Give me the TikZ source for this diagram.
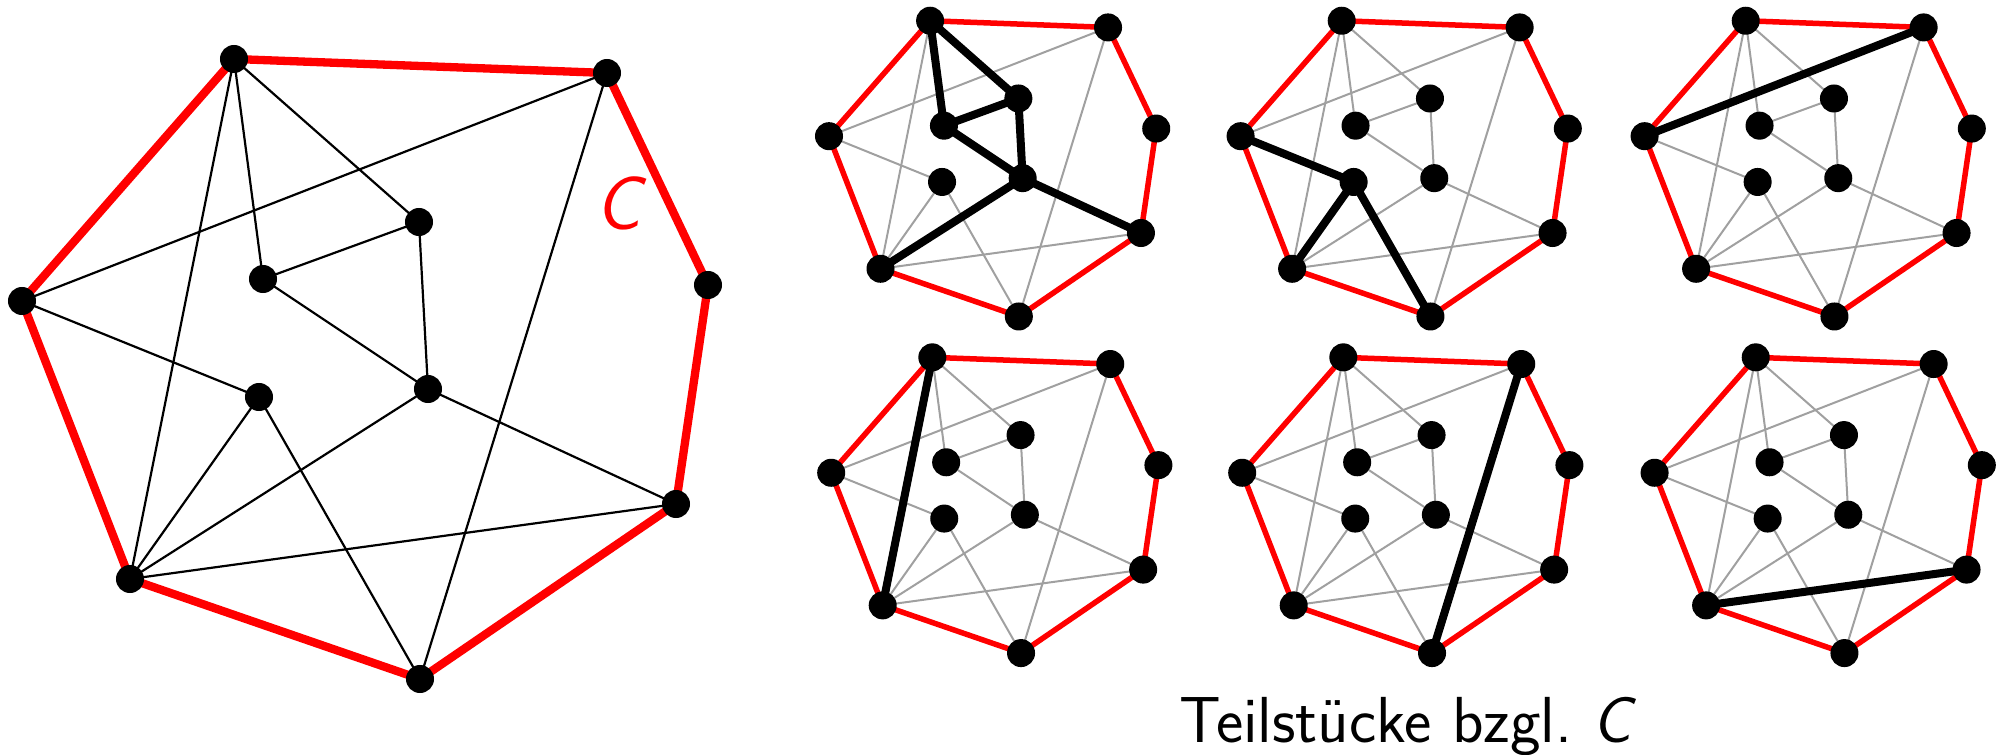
\documentclass[tikz,border=0pt]{standalone}
\definecolor{edgegrey}{RGB}{160,160,160}
\pgfdeclarelayer{bg}
\pgfsetlayers{bg,main}
\tikzset{
  vertex/.style={circle, fill=black, inner sep=0pt, minimum size=0.28cm},
  cycmain/.style={red, line width=0.083cm, line join=round},
  edgemain/.style={black, line width=0.022cm},
  cycsmall/.style={red, line width=0.055cm, line join=round},
  edgesmall/.style={edgegrey, line width=0.02cm},
  piece/.style={black, line width=0.08cm, line join=round},
}
% vertices of the graph, suffix #1
\newcommand{\placegraph}[1]{%
  \foreach \n/\px/\py in {a/234/59, b/607/73, c/708/285, d/676/504, e/420/679,
      f/130/579, g/22/301, h/419/222, i/263/279, j/428/389, k/259/397}
    \node[vertex] (\n#1) at (\px,\py) {};
}
% edges not on the cycle
\newcommand{\graphedges}[2]{%
  \begin{pgfonlayer}{bg}
  \foreach \u/\v in {a/h, a/i, a/f, g/b, g/k, b/e, i/h, i/j, h/j, j/d, j/f, k/f, k/e, f/d}
    \draw[#2] (\u#1.center) -- (\v#1.center);
  \end{pgfonlayer}
}
% the cycle C
\newcommand{\graphcycle}[2]{%
  \begin{pgfonlayer}{bg}
  \draw[#2] (a#1.center) -- (b#1.center) -- (c#1.center) -- (d#1.center)
    -- (e#1.center) -- (f#1.center) -- (g#1.center) -- cycle;
  \end{pgfonlayer}
}
\begin{document}
\begin{tikzpicture}[x=0.01cm, y=-0.01cm]
    \useasboundingbox (0,0) rectangle (2005,755);

    % Main graph
    \placegraph{m}
    \graphedges{m}{edgemain}
    \graphcycle{m}{cycmain}
    \node[red, font=\fontsize{21.6}{24}\selectfont\sffamily\slshape] (clabel) at (618,203) {C};

    % Small copies, one per piece
    \foreach \ox/\oy [count=\k] in {818.5/-7.4, 1230.1/-7.4, 1634.1/-7.4,
                                    820.7/329.2, 1231.7/329.2, 1644.1/329.2} {
      \begin{scope}[shift={(\ox,\oy)}, scale=0.477]
        \placegraph{\k}
        \graphedges{\k}{edgesmall}
        \graphcycle{\k}{cycsmall}
      \end{scope}
    }

    % Pieces w.r.t. C
    \begin{pgfonlayer}{bg}
    \draw[piece] (i1.center) -- (a1.center) -- (h1.center) -- (i1.center) -- (j1.center) -- (h1.center);
    \draw[piece] (f1.center) -- (j1.center) -- (d1.center);
    \draw[piece] (g2.center) -- (k2.center) -- (f2.center);
    \draw[piece] (k2.center) -- (e2.center);
    \draw[piece] (g3.center) -- (b3.center);
    \draw[piece] (a4.center) -- (f4.center);
    \draw[piece] (b5.center) -- (e5.center);
    \draw[piece] (f6.center) -- (d6.center);
    \end{pgfonlayer}

    \node[anchor=base, font=\fontsize{18.5}{20}\selectfont\sffamily] (caption) at (1408,743) {Teilstücke bzgl.\ \textsl{C}};
\end{tikzpicture}
\end{document}
